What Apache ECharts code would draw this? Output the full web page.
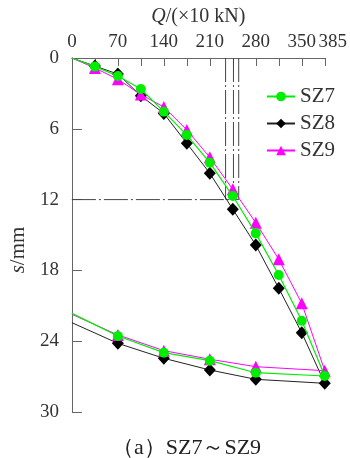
<!DOCTYPE html>
<html>
<head>
<meta charset="utf-8">
<script src="https://cdn.jsdelivr.net/npm/echarts@6/dist/echarts.min.js"></script>
<style>
html,body{margin:0;padding:0;background:#fff;}
#main{width:350px;height:458px;}
</style>
</head>
<body>
<div id="main"></div>
<script>
//荷载 Q (×10 kN)
var qLoad = [0, 35, 70, 105, 140, 175, 210, 245, 280, 315, 350, 385];
var qUnload = [280, 210, 140, 70, 0];

//沉降 s (mm)
var sz7Load = [0, 0.73, 1.53, 2.63, 4.55, 6.53, 8.87, 11.7, 14.86, 18.39, 22.26, 26.95];
var sz7Unload = [26.67, 25.65, 24.97, 23.56, 21.64];
var sz8Load = [0, 0.68, 1.36, 3.2, 4.7, 7.23, 9.77, 12.82, 15.85, 19.52, 23.28, 27.57];
var sz8Unload = [27.23, 26.44, 25.45, 24.18, 22.43];
var sz9Load = [0, 0.85, 1.8, 3.1, 4.15, 6.1, 8.42, 11.13, 13.96, 17.06, 20.79, 26.5];
var sz9Unload = [26.16, 25.53, 24.8, 23.47, 21.72];

//辅助线
var refQ = [234, 246, 254];
var refS = 12;

var serif = 'serif';

function curve(load, unload){
    var arr = [];
    var i;
    for(i = 0; i < qLoad.length; i++){
        arr.push(qLoad[i] === 0 ? {value: [qLoad[i], load[i]], symbol: 'none'} : [qLoad[i], load[i]]);
    }
    for(i = 0; i < qUnload.length; i++){
        arr.push(qUnload[i] === 0 ? {value: [qUnload[i], unload[i]], symbol: 'none'} : [qUnload[i], unload[i]]);
    }
    return arr;
}

var dashDot = {color: '#444', width: 1, type: [24, 3, 2, 3]};

var refSeries = [];
refSeries.push({
    type: 'line', silent: true, symbol: 'none', z: 1,
    lineStyle: dashDot,
    data: [[0, refS], [refQ[refQ.length - 1], refS]]
});
refQ.forEach(function(q){
    refSeries.push({
        type: 'line', silent: true, symbol: 'none', z: 1,
        lineStyle: dashDot,
        data: [[q, 0], [q, refS]]
    });
});

var chart = echarts.init(document.getElementById('main'));

var option = {
    animation: false,
    backgroundColor: '#fff',
    textStyle: {fontFamily: serif},
    title: {
        text: '（a）SZ7～SZ9',
        left: 107,
        top: 432,
        textStyle: {fontFamily: serif, fontSize: 22, fontWeight: 'normal', color: '#222'}
    },
    legend: {
        orient: 'vertical',
        left: 261,
        top: 81,
        itemWidth: 28,
        itemHeight: 12,
        itemGap: 6,
        data: ['SZ7', 'SZ8', 'SZ9'],
        textStyle: {fontFamily: serif, fontSize: 21, lineHeight: 20, color: '#333'}
    },
    grid: {left: 66, top: 58, right: 24, bottom: 46},
    xAxis: {
        type: 'value',
        position: 'top',
        min: 0,
        max: 385,
        interval: 35,
        name: '{i|Q}/(×10 kN)',
        nameLocation: 'middle',
        nameGap: 31,
        nameTextStyle: {
            fontFamily: serif, fontSize: 20, color: '#333',
            rich: {i: {fontFamily: serif, fontSize: 20, fontStyle: 'italic', color: '#333'}}
        },
        axisLine: {lineStyle: {color: '#666', width: 1}},
        axisTick: {inside: true, length: 8, lineStyle: {color: '#666'}},
        splitLine: {show: false},
        axisLabel: {
            fontFamily: serif, fontSize: 19, color: '#333', margin: 6,
            formatter: function(v){
                if(v === 385) return '{r|385}';
                return v % 70 === 0 ? String(v) : '';
            },
            rich: {r: {fontFamily: serif, fontSize: 19, color: '#333', padding: [0, 0, 0, 16]}}
        }
    },
    yAxis: {
        type: 'value',
        inverse: true,
        min: 0,
        max: 30,
        interval: 6,
        name: '{i|s}/mm',
        nameLocation: 'middle',
        nameGap: 40,
        nameTextStyle: {
            fontFamily: serif, fontSize: 21, color: '#333', padding: [0, 30, 0, 0],
            rich: {i: {fontFamily: serif, fontSize: 21, fontStyle: 'italic', color: '#333'}}
        },
        axisLine: {show: true, lineStyle: {color: '#666', width: 1}},
        axisTick: {show: true, inside: true, length: 10, lineStyle: {color: '#666'}},
        splitLine: {show: false},
        axisLabel: {fontFamily: serif, fontSize: 19, color: '#333', margin: 13}
    },
    series: refSeries.concat([
        {
            name: 'SZ8', type: 'line', z: 2,
            symbol: 'diamond', symbolSize: [12, 13],
            itemStyle: {color: '#000'},
            lineStyle: {color: '#222', width: 1},
            data: curve(sz8Load, sz8Unload)
        },
        {
            name: 'SZ9', type: 'line', z: 3,
            symbol: 'triangle', symbolSize: 12,
            itemStyle: {color: '#ff00ff'},
            lineStyle: {color: '#ff00ff', width: 1},
            data: curve(sz9Load, sz9Unload)
        },
        {
            name: 'SZ7', type: 'line', z: 4,
            symbol: 'circle', symbolSize: 10,
            itemStyle: {color: '#00ee00'},
            lineStyle: {color: '#00ee00', width: 1.2},
            data: curve(sz7Load, sz7Unload)
        }
    ])
};

chart.setOption(option);
</script>
</body>
</html>
